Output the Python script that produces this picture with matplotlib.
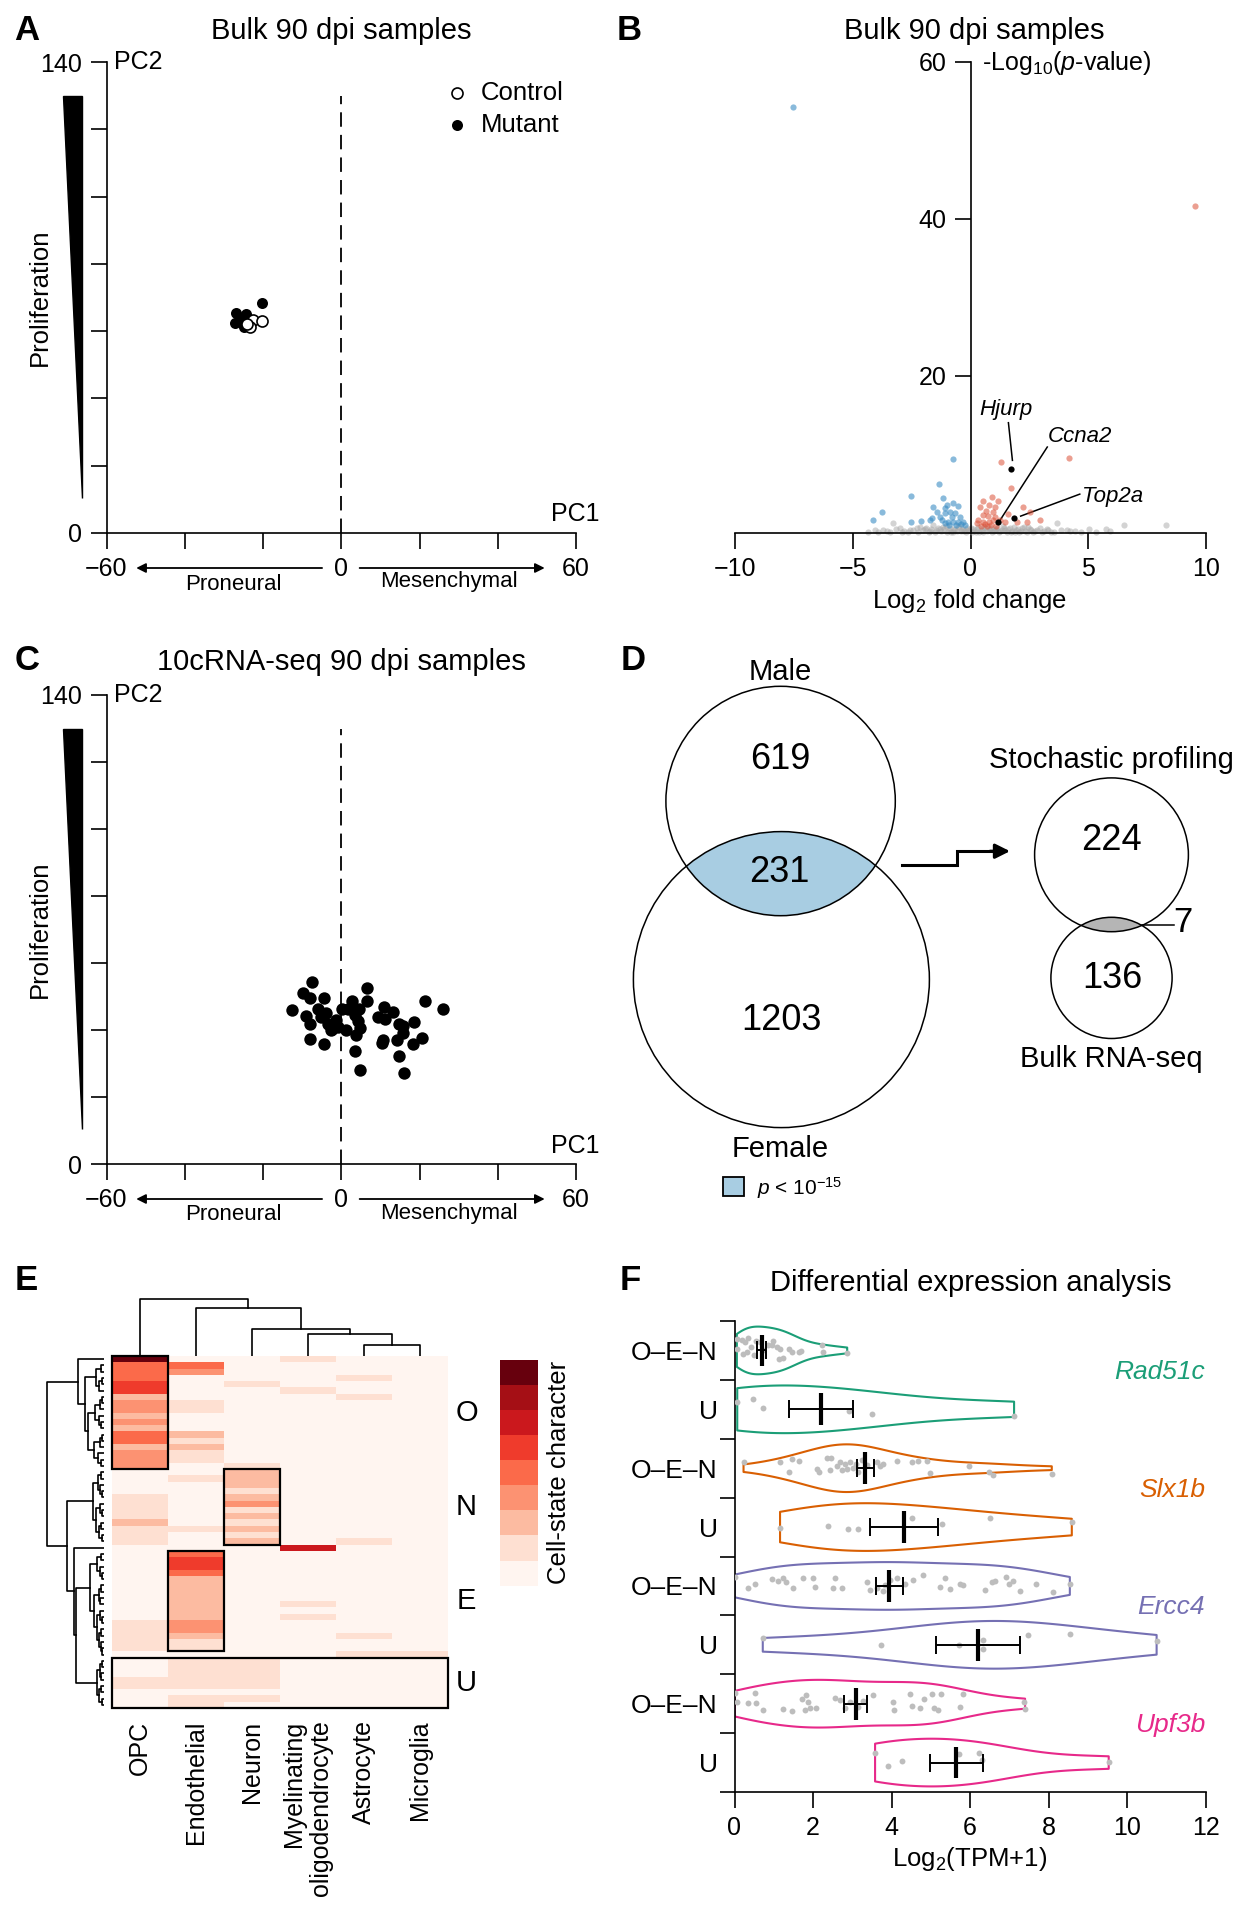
import matplotlib.pyplot as plt
import numpy as np
from matplotlib.patches import Circle, Polygon, Rectangle
from matplotlib.colors import ListedColormap, BoundaryNorm

plt.rcParams['font.family'] = ['Liberation Sans', 'DejaVu Sans']
plt.rcParams['mathtext.fontset'] = 'custom'
plt.rcParams['mathtext.rm'] = 'Liberation Sans'
plt.rcParams['mathtext.it'] = 'Liberation Sans:italic'
plt.rcParams['mathtext.bf'] = 'Liberation Sans:bold'
plt.rcParams['axes.linewidth'] = 1.2

# ---------------- data ----------------
# A: bulk PCA (PC1, PC2)
a_mut_x = [-27.2, -26.8, -24.3, -25.5, -24.8, -20.3]
a_mut_y = [62.3, 65.3, 65.0, 63.4, 61.3, 68.5]
a_ctl_x = [-22.5, -20.3, -23.2, -24.0]
a_ctl_y = [63.4, 63.0, 61.3, 62.0]

# B: volcano
gray_x = [-4.35, -4.05, -3.73, -3.55, -3.30, -3.15, -2.99, -2.82, -2.65, -2.43,
          -2.28, -2.14, -2.02, -1.88, -1.76, -1.66, -1.58, -1.47, -1.36, -1.24,
          -1.12, -1.03, -0.92, -0.81, -0.70, -0.58, -0.49, -0.37, -0.26, -0.15,
          -0.06, 0.07, 0.16, 0.28, 0.37, 0.49, 0.58, 0.71, 0.83, 0.92,
          1.04, 1.13, 1.27, 1.36, 1.48, 1.59, 1.71, 1.83, 1.94, 2.06,
          2.18, 2.31, 2.45, 2.58, 2.74, 2.95, 3.12, 3.23, 3.41, 3.66,
          3.83, 4.08, 4.45, 5.05, 5.75, 5.92, 6.52, 8.30,
          -3.92, -3.41, -2.91, -2.56, -2.21, -1.95, -1.71, -1.52, -1.31, -1.17,
          -0.98, -0.86, -0.75, -0.64, -0.53, -0.42, -0.31, -0.21, -0.10, 0.03,
          0.12, 0.22, 0.33, 0.44, 0.54, 0.66, 0.77, 0.88, 0.98, 1.09,
          1.21, 1.32, 1.44, 1.55, 1.66, 1.78, 1.89, 2.01, 2.13, 2.26,
          2.39, 2.52, 2.66, 2.84, 3.02, 3.31, 3.55, 4.22, 4.71, 5.34]
gray_y = [0.12, 0.28, 0.32, 0.18, 1.17, 0.41, 0.53, 0.22, 0.09, 0.32,
          0.55, 0.74, 0.27, 0.61, 0.14, 0.44, 0.95, 0.31, 0.63, 0.18,
          0.49, 0.83, 0.29, 0.11, 0.52, 0.24, 0.71, 0.38, 0.15, 0.58,
          0.27, 0.09, 0.22, 0.48, 0.12, 0.36, 0.69, 0.19, 0.51, 0.08,
          0.33, 0.62, 0.21, 0.79, 0.28, 0.47, 0.14, 0.71, 0.36, 0.11,
          0.55, 0.24, 0.74, 0.38, 0.18, 0.62, 0.21, 0.40, 0.13, 1.17,
          0.30, 0.32, 0.15, 0.40, 0.40, 0.22, 0.91, 1.00,
          0.05, 0.14, 0.07, 0.36, 0.12, 0.45, 0.26, 0.06, 0.41, 0.72,
          0.13, 0.58, 0.04, 0.33, 0.86, 0.19, 0.44, 0.06, 0.35, 0.62,
          0.41, 0.05, 0.77, 0.26, 0.09, 0.55, 0.31, 0.64, 0.18, 0.47,
          0.06, 0.39, 0.57, 0.10, 0.62, 0.25, 0.08, 0.49, 0.20, 0.66,
          0.07, 0.42, 0.12, 0.31, 0.05, 0.27, 0.08, 0.21, 0.10, 0.06]
blue_x = [-7.53, -0.73, -1.32, -2.54, -3.77, -4.15, -2.53, -2.10, -1.65, -1.58,
          -1.15, -1.01, -0.73, -0.52, -1.44, -1.08, -0.87, -0.66, -0.45, -1.22,
          -0.94, -0.73, -0.52, -0.30, -1.08, -0.80, -1.29, -1.72,
          -0.60, -0.40, -0.90, -1.10, -0.25]
blue_y = [54.2, 9.43, 6.18, 4.65, 2.61, 1.55, 1.30, 1.46, 1.80, 3.29,
          4.35, 3.50, 3.72, 3.38, 2.65, 2.44, 2.65, 2.44, 2.02, 1.59,
          1.38, 1.38, 1.38, 1.38, 3.08, 2.02, 2.02, 1.59,
          1.00, 1.10, 1.00, 1.20, 1.00]
red_x = [9.54, 4.20, 1.31, 1.72, 0.52, 0.90, 1.18, 0.80, 1.04, 0.40,
         0.66, 0.94, 0.52, 0.76, 1.04, 0.33, 0.54, 0.80, 0.97, 1.25,
         1.46, 0.26, 2.21, 2.53, 1.61, 2.41, 2.95, 1.96, 0.45, 0.62,
         0.70, 0.88, 1.10]
red_y = [41.55, 9.45, 8.94, 5.63, 4.06, 4.48, 4.06, 3.50, 3.29, 3.29,
         2.78, 2.65, 2.23, 2.10, 2.02, 1.59, 1.38, 1.38, 1.59, 1.59,
         1.38, 1.25, 3.29, 2.65, 2.36, 1.38, 1.59, 1.38, 0.90, 1.10,
         0.80, 1.00, 0.90]
genes_b = ['Hjurp', 'Ccna2', 'Top2a']
genes_b_x = [1.72, 1.15, 1.85]
genes_b_y = [8.09, 1.38, 1.80]

# C: 10cRNA-seq PCA
c_x = [-7.4, -9.9, -7.9, -4.3, -12.6, -8.9, -5.9, -3.8, -8.1, -5.3,
       -3.3, -1.3, -2.5, -0.8, 0.2, 2.7, 4.5, 3.4, 6.6, 6.6,
       1.2, 3.7, 4.7, 3.4, 4.9, 9.3, 11.0, 11.3, 13.3, 14.8,
       15.8, 18.7, 15.8, 14.3, 10.6, 10.3, 18.4, 20.7, 14.8, 16.0,
       21.4, 25.9, -8.1, -4.3, -2.3, 1.7, 4.2]
c_y = [54.3, 51.1, 49.5, 49.7, 45.9, 44.2, 46.3, 45.1, 41.9, 44.0,
       41.7, 42.9, 40.0, 40.8, 46.3, 48.8, 46.3, 44.6, 52.6, 48.8,
       40.0, 38.6, 40.6, 33.7, 28.2, 43.8, 46.9, 43.4, 45.4, 41.7,
       41.1, 42.3, 39.2, 37.1, 36.9, 36.0, 35.7, 37.7, 32.3, 27.1,
       48.6, 46.3, 37.4, 35.8, 40.3, 46.3, 42.6]

# D: Venn counts
male_only, shared, female_only = 619, 231, 1203
stoch_only, overlap_sb, bulk_only = 224, 7, 136

# E: heatmap (levels 0-8), rows top to bottom
cell_types = ['OPC', 'Endothelial', 'Neuron', 'Myelinating\noligodendrocyte',
              'Astrocyte', 'Microglia']
opc = [8, 4, 4, 4, 5, 5, 2, 3, 3, 2, 3, 2, 4, 4, 2, 3, 3, 3, 0, 0,
       0, 0, 1, 1, 1, 1, 2, 1, 1, 1, 0, 0, 0, 0, 0, 0, 0, 0, 0, 0,
       0, 0, 1, 1, 1, 1, 1, 0, 0, 0, 0, 1, 1, 0, 0, 0]
endo = [0, 4, 3, 0, 0, 0, 0, 1, 1, 0, 0, 0, 2, 1, 2, 1, 1, 0, 0, 1,
        0, 0, 0, 0, 0, 0, 0, 1, 0, 0, 0, 4, 5, 5, 4, 2, 2, 2, 2, 2,
        2, 2, 3, 3, 2, 1, 1, 0, 1, 1, 1, 1, 1, 0, 1, 1]
neuron = [0, 0, 0, 0, 1, 0, 0, 0, 0, 0, 0, 0, 0, 0, 0, 0, 0, 1, 2, 2,
          2, 1, 2, 3, 1, 2, 1, 2, 1, 2, 0, 0, 0, 0, 0, 0, 0, 0, 0, 0,
          0, 0, 0, 0, 0, 0, 0, 0, 1, 1, 1, 1, 1, 0, 1, 0]
myelin = [1, 0, 0, 0, 0, 1, 0, 0, 0, 0, 0, 0, 0, 0, 0, 0, 0, 0, 0, 0,
          0, 0, 0, 0, 0, 0, 0, 0, 0, 0, 6, 0, 0, 0, 0, 0, 0, 0, 0, 1,
          0, 1, 0, 0, 0, 0, 0, 0, 0, 0, 0, 0, 0, 0, 0, 0]
astro = [0, 0, 0, 1, 0, 0, 1, 0, 0, 0, 0, 0, 0, 0, 0, 0, 0, 0, 0, 0,
         0, 0, 0, 0, 0, 0, 0, 0, 0, 1, 0, 0, 0, 0, 0, 0, 0, 0, 0, 0,
         0, 0, 0, 0, 1, 0, 0, 1, 0, 0, 0, 0, 0, 0, 0, 0]
micro = [0, 0, 0, 0, 0, 0, 0, 0, 0, 0, 0, 0, 0, 0, 0, 0, 0, 0, 0, 0,
         0, 0, 0, 0, 0, 0, 0, 0, 0, 0, 0, 0, 0, 0, 0, 0, 0, 0, 0, 0,
         0, 0, 0, 0, 0, 0, 0, 1, 0, 0, 0, 0, 0, 0, 0, 0]
reds9 = ['#fff5f0', '#fee0d2', '#fcbba1', '#fc9272', '#fb6a4a',
         '#ef3b2c', '#cb181d', '#a50f15', '#67000d']
# clusters: name, column of box (None = all), first row, last row + 1
clusters = [('O', 0, 0, 18), ('N', 2, 18, 30), ('E', 1, 31, 47), ('U', None, 48, 56)]
# dendrograms: (height_px, left, right), leaves = index
col_tree = (57.2, 0, (48.0, 1, (26.8, 2, (21.6, 3, (11.0, 4, 5)))))
o_tree = (26.7, 0, (19.3, (8.0, (3.5, 1, 2), (5.5, (2.5, 3, 4), 5)),
                    (16.7, (9.0, (4.0, (2.5, 6, 7), 8), (5.0, 9, (3.0, 10, 11))),
                     (10.0, (4.5, (2.5, 12, 13), 14), (6.0, 15, (3.0, 16, 17))))))
n_tree = (11.0, (6.0, (3.0, 18, 19), (4.0, 20, (2.5, 21, 22))),
          (8.0, (4.0, 23, (2.5, 24, 25)), (5.0, (3.0, 26, 27), (2.5, 28, 29))))
e_tree = (14.3, (7.0, (3.0, 31, 32), (4.5, 33, (2.5, 34, 35))),
          (10.0, (5.0, (3.0, 36, 37), (4.0, 38, 39)),
           (7.0, (4.0, 40, (2.5, 41, 42)), (5.0, (3.0, 43, 44), (3.5, 45, (2.0, 46, 47))))))
u_tree = (7.0, (4.0, (2.5, 48, 49), (3.0, 50, 51)), (5.0, (3.0, 52, 53), (2.5, 54, 55)))
row_tree = (57.6, o_tree, (37.0, n_tree, (30.0, 30, (28.7, e_tree, u_tree))))

# F: violins, rows top to bottom
f_genes = ['Rad51c', 'Slx1b', 'Ercc4', 'Upf3b']
f_colors = ['#1b9e77', '#d95f02', '#7570b3', '#e7298a']
f_groups = ['O\u2013E\u2013N', 'U']
f_vals = [
    [0.06, 0.07, 0.18, 0.27, 0.31, 0.41, 0.50, 0.56, 0.65, 0.73, 0.86, 0.95, 1.07,
     1.14, 1.24, 1.40, 1.46, 1.63, 1.69, 2.22, 2.26, 2.87, 0.22, 0.35, 0.99, 1.16],
    [0.07, 0.46, 0.72, 2.92, 3.49, 7.12],
    [0.23, 1.16, 1.46, 1.63, 1.40, 2.11, 2.35, 2.47, 2.43, 2.62, 2.69, 2.81, 2.86,
     2.94, 3.03, 3.09, 3.15, 3.24, 3.37, 3.62, 3.71, 3.79, 4.13, 4.51, 4.68, 4.89,
     4.98, 5.98, 6.49, 6.59, 8.08, 2.16, 2.73],
    [1.16, 2.37, 2.90, 3.15, 4.51, 5.28, 6.51, 8.59],
    [0.01, 0.35, 0.52, 0.95, 1.12, 1.24, 1.31, 1.48, 1.74, 2.01, 2.05, 2.52, 2.56,
     2.73, 3.37, 3.45, 3.62, 3.79, 3.83, 3.96, 4.13, 4.34, 4.55, 4.79, 5.23, 5.36,
     5.49, 5.74, 5.83, 6.38, 6.55, 6.63, 6.91, 7.00, 7.10, 7.27, 7.68, 8.10, 8.54],
    [0.72, 3.73, 5.73, 6.34, 6.32, 7.48, 8.54, 10.75],
    [0.01, 0.06, 0.35, 0.52, 0.55, 0.73, 1.23, 1.46, 1.71, 1.82, 1.88, 1.92, 2.08,
     1.80, 2.56, 2.69, 2.81, 2.94, 3.15, 3.28, 3.52, 4.03, 4.05, 4.47, 4.51, 4.72,
     4.83, 5.02, 5.08, 5.17, 5.25, 5.74, 5.81, 7.36, 7.40],
    [3.58, 3.90, 4.26, 5.71, 6.23, 6.31, 9.53],
]
f_jitter = [
    [-0.20, -0.03, -0.18, -0.14, 0.02, -0.06, 0.08, -0.16, -0.14, 0.00, -0.09, -0.10,
     -0.06, 0.14, 0.12, -0.03, 0.02, 0.03, 0.01, -0.10, 0.02, 0.04, 0.06, -0.21,
     -0.16, -0.03],
    [-0.12, -0.17, -0.03, 0.03, 0.08, 0.12],
    [-0.11, -0.11, -0.16, -0.12, 0.07, 0.01, -0.18, -0.17, 0.03, -0.03, -0.11, -0.07,
     0.01, -0.11, -0.01, -0.07, 0.06, -0.14, -0.06, -0.11, -0.03, -0.07, -0.12,
     -0.11, -0.12, -0.12, 0.08, -0.03, 0.06, 0.11, 0.10, 0.06, 0.03],
    [0.01, -0.02, 0.03, 0.03, -0.16, -0.05, -0.15, -0.08],
    [-0.16, 0.04, -0.03, -0.11, -0.08, -0.13, -0.06, 0.03, -0.13, -0.14, 0.01, 0.03,
     -0.13, 0.03, -0.07, 0.07, 0.04, 0.08, -0.01, -0.10, -0.14, -0.03, -0.10, -0.18,
     0.01, -0.14, 0.05, -0.03, -0.02, 0.07, -0.07, -0.08, -0.15, -0.03, -0.08, 0.08,
     -0.03, 0.11, -0.03],
    [-0.12, 0.01, 0.01, -0.08, 0.07, -0.17, -0.18, -0.07],
    [-0.18, -0.03, -0.02, -0.18, -0.02, 0.11, 0.09, 0.12, -0.08, -0.15, -0.03, 0.07,
     0.07, 0.10, -0.09, -0.06, 0.07, -0.03, 0.05, -0.05, -0.14, -0.03, 0.11, -0.16,
     0.04, 0.07, -0.08, -0.16, 0.08, 0.10, -0.16, 0.05, -0.16, -0.03, 0.09],
    [-0.17, 0.06, -0.02, -0.15, -0.16, -0.04, -0.01],
]
f_mean = [0.70, 2.20, 3.32, 4.32, 3.93, 6.21, 3.09, 5.65]
f_lo = [0.58, 1.39, 3.11, 3.45, 3.60, 5.13, 2.79, 4.97]
f_hi = [0.81, 3.03, 3.54, 5.17, 4.28, 7.27, 3.38, 6.34]

# ---------------- figure ----------------
W, H = 1250, 1920
fig = plt.figure(figsize=(W / 100, H / 100), dpi=100)
LETTER = dict(fontsize=25, fontweight='bold')


def px_axes(x0, y0, x1, y1):
    return fig.add_axes([x0 / W, 1 - y1 / H, (x1 - x0) / W, (y1 - y0) / H])


def ftext(x, y, s, **kw):
    kw.setdefault('ha', 'center')
    kw.setdefault('va', 'center')
    return fig.text(x / W, 1 - y / H, s, **kw)


def pca_panel(y0, y1, xs, ys, size, open_x=None, open_y=None):
    ax = px_axes(106.5, y0, 576, y1)
    ax.set_xlim(-60, 60)
    ax.set_ylim(0, 140)
    for s in ['top', 'right']:
        ax.spines[s].set_visible(False)
    ax.set_xticks(range(-60, 61, 20))
    ax.set_xticklabels(['\u221260', '', '', '0', '', '', '60'], fontsize=18)
    ax.set_yticks(range(0, 141, 20))
    ax.set_yticklabels(['0', '', '', '', '', '', '', '140'], fontsize=18)
    ax.tick_params(length=11.5, width=1.2, pad=6)
    ax.plot([0, 0], [0, 130], color='k', lw=1.3, ls=(0, (8, 4.5)))
    ax.scatter(xs, ys, s=size, color='k', zorder=3, linewidths=0)
    if open_x is not None:
        ax.scatter(open_x, open_y, s=size, facecolor='white', edgecolor='k',
                   linewidths=1.2, zorder=4)
    # proliferation wedge
    ax.add_patch(Polygon([(-71.2, 130), (-66.2, 130), (-66.2, 10.5)], closed=True,
                         color='k', clip_on=False))
    ax.text(-77, 70, 'Proliferation', rotation=90, ha='center', va='center',
            fontsize=18.5)
    ax.text(-58, 140, 'PC2', ha='left', va='center', fontsize=18)
    ax.text(66, 5.5, 'PC1', ha='right', va='center', fontsize=18)
    tr = ax.get_xaxis_transform()
    ya = -35 / (y1 - y0)
    arrow = dict(arrowstyle='-|>', color='k', lw=1.3, mutation_scale=14,
                 shrinkA=0, shrinkB=0)
    ax.annotate('', xy=(-52.4, ya), xytext=(-4.9, ya), xycoords=tr, textcoords=tr,
                arrowprops=arrow)
    ax.annotate('', xy=(52.0, ya), xytext=(4.7, ya), xycoords=tr, textcoords=tr,
                arrowprops=arrow)
    ax.text(-27.6, -51 / (y1 - y0), 'Proneural', transform=tr, ha='center',
            va='center', fontsize=16)
    ax.text(27.5, -49 / (y1 - y0), 'Mesenchymal', transform=tr, ha='center',
            va='center', fontsize=16)
    return ax


# ---------- A ----------
ftext(27, 30, 'A', **LETTER)
ftext(341, 31, 'Bulk 90 dpi samples', fontsize=21)
ax_a = pca_panel(62, 533, a_mut_x, a_mut_y, 63, a_ctl_x, a_ctl_y)
ax_a.scatter([29.5], [130.7], s=63, facecolor='white', edgecolor='k', linewidths=1.2)
ax_a.scatter([29.5], [121.4], s=63, color='k', linewidths=0)
ax_a.text(35.6, 130.7, 'Control', ha='left', va='center', fontsize=18.5)
ax_a.text(35.6, 121.4, 'Mutant', ha='left', va='center', fontsize=18.5)

# ---------- B ----------
ftext(629, 30, 'B', **LETTER)
ftext(974, 31, 'Bulk 90 dpi samples', fontsize=21)
ax_b = px_axes(735, 61.6, 1206, 532.6)
ax_b.set_xlim(-10, 10)
ax_b.set_ylim(0, 60)
for s in ['top', 'right']:
    ax_b.spines[s].set_visible(False)
ax_b.spines['left'].set_position(('data', 0))
ax_b.set_xticks([-10, -5, 0, 5, 10])
ax_b.set_xticklabels(['\u221210', '\u22125', '0', '5', '10'], fontsize=18)
ax_b.set_yticks([20, 40, 60])
ax_b.set_yticklabels(['20', '40', '60'], fontsize=18)
ax_b.tick_params(length=11.5, width=1.2, pad=6)
ax_b.scatter(gray_x, gray_y, s=20, color='#a8a8a8', alpha=0.5, linewidths=0,
             clip_on=False, zorder=2)
ax_b.scatter(blue_x, blue_y, s=20, color='#3a8cc3', alpha=0.6, linewidths=0,
             clip_on=False, zorder=3)
ax_b.scatter(red_x, red_y, s=20, color='#dc5037', alpha=0.55, linewidths=0,
             clip_on=False, zorder=3)
ax_b.scatter(genes_b_x, genes_b_y, s=20, color='k', linewidths=0, zorder=4)
lab_pos = [(1.52, 15.7), (4.64, 12.2), (6.03, 4.64)]
line_pts = [((1.61, 14.0), (1.78, 9.2)), ((3.26, 10.9), (1.26, 1.6)),
            ((4.64, 4.9), (2.13, 2.1))]
for g, (lx, ly), (p0, p1) in zip(genes_b, lab_pos, line_pts):
    ax_b.text(lx, ly, g, style='italic', fontsize=16, ha='center', va='center')
    ax_b.plot([p0[0], p1[0]], [p0[1], p1[1]], color='k', lw=1.1)
ftext(982, 63, r'-Log$_{10}$($p$-value)', ha='left', fontsize=18)
ftext(970, 601, r'Log$_2$ fold change', fontsize=18.5)

# ---------- C ----------
ftext(27, 661, 'C', **LETTER)
ftext(341, 662, '10cRNA-seq 90 dpi samples', fontsize=21)
pca_panel(695, 1164, c_x, c_y, 80)

# ---------- D ----------
ftext(633, 660, 'D', **LETTER)
ax_d = px_axes(615, 640, 1250, 1250)
ax_d.set_xlim(615, 1250)
ax_d.set_ylim(1250, 640)
ax_d.axis('off')
male = Circle((780.6, 801), 114.7, fc='none', ec='k', lw=1.1, zorder=3)
female = Circle((781.4, 979.6), 148.0, fc='none', ec='k', lw=1.1, zorder=3)
ax_d.add_patch(male)
ax_d.add_patch(female)
lens = Circle((781.4, 979.6), 148.0, fc='#a8cde2', ec='none', zorder=1)
ax_d.add_patch(lens)
lens.set_clip_path(male)
stoch = Circle((1111.5, 854.8), 76.9, fc='none', ec='k', lw=1.1, zorder=3)
bulk = Circle((1111.5, 977.9), 60.6, fc='none', ec='k', lw=1.1, zorder=3)
ax_d.add_patch(stoch)
ax_d.add_patch(bulk)
lens2 = Circle((1111.5, 977.9), 60.6, fc='#b5b5b5', ec='none', zorder=1)
ax_d.add_patch(lens2)
lens2.set_clip_path(stoch)
ax_d.text(780.6, 672, 'Male', ha='center', va='center', fontsize=21)
ax_d.text(780.6, 1148.6, 'Female', ha='center', va='center', fontsize=21)
ax_d.text(780.6, 760, str(male_only), ha='center', va='center', fontsize=26)
ax_d.text(779.3, 873, str(shared), ha='center', va='center', fontsize=26)
ax_d.text(781.4, 1021, str(female_only), ha='center', va='center', fontsize=26)
ax_d.text(1111, 760, 'Stochastic profiling', ha='center', va='center', fontsize=21)
ax_d.text(1111, 841, str(stoch_only), ha='center', va='center', fontsize=26)
ax_d.text(1112, 979, str(bulk_only), ha='center', va='center', fontsize=26)
ax_d.text(1111, 1059, 'Bulk RNA-seq', ha='center', va='center', fontsize=21)
ax_d.text(1183, 923, str(overlap_sb), ha='center', va='center', fontsize=25)
ax_d.plot([1142, 1174], [924.7, 924.7], color='k', lw=1.1)
ax_d.plot([901.8, 956.8, 956.8, 995], [865.4, 865.4, 851.2, 851.2], color='k',
          lw=2.2, solid_joinstyle='miter')
ax_d.annotate('', xy=(1010, 851.2), xytext=(990, 851.2),
              arrowprops=dict(arrowstyle='-|>', color='k', lw=2.2,
                              mutation_scale=22, shrinkA=0, shrinkB=0))
ax_d.add_patch(Rectangle((723.4, 1177), 20.5, 19.4, fc='#a8cde2', ec='k', lw=1.3))
ax_d.text(757, 1188, r'$p$ < 10$^{-15}$', ha='left', va='center', fontsize=15)

# ---------- E ----------
ftext(26, 1281, 'E', **LETTER)
mat = np.array([opc, endo, neuron, myelin, astro, micro]).T
cmap = ListedColormap(reds9)
norm = BoundaryNorm(np.arange(-0.5, 9.5, 1), cmap.N)
ax_e = px_axes(111.7, 1356, 447.5, 1708)
ax_e.pcolormesh(np.arange(7), np.arange(57), mat, cmap=cmap, norm=norm)
ax_e.set_xlim(0, 6)
ax_e.set_ylim(56, 0)
for s in ax_e.spines.values():
    s.set_visible(False)
ax_e.set_yticks([])
ax_e.set_xticks(np.arange(6) + 0.5)
ax_e.set_xticklabels(cell_types, rotation=90, fontsize=18)
for t in ax_e.get_xticklabels():
    t.set_multialignment('right')
ax_e.tick_params(axis='x', length=0, pad=9)
for name, col, r0, r1 in clusters:
    if col is None:
        x0, w = 0, 6
    else:
        x0, w = col, 1
    ax_e.add_patch(Rectangle((x0, r0), w, r1 - r0, fc='none', ec='k', lw=1.6,
                             clip_on=False, zorder=5))
    ax_e.text(6.34, (r0 + r1) / 2, name, ha='center', va='center', fontsize=21)


def draw_tree(ax, node, rows):
    if isinstance(node, int):
        return node + 0.5, 0.0
    h, left, right = node
    p1, h1 = draw_tree(ax, left, rows)
    p2, h2 = draw_tree(ax, right, rows)
    if rows:
        ax.plot([h1, h, h, h2], [p1, p1, p2, p2], color='k', lw=1.2)
    else:
        ax.plot([p1, p1, p2, p2], [h1, h, h, h2], color='k', lw=1.2)
    return (p1 + p2) / 2, h


ax_rd = px_axes(40, 1356, 104.3, 1708)
ax_rd.set_xlim(64.3, 0)
ax_rd.set_ylim(56, 0)
ax_rd.axis('off')
draw_tree(ax_rd, row_tree, True)

ax_cd = px_axes(111.7, 1290, 447.5, 1356)
ax_cd.set_xlim(0, 6)
ax_cd.set_ylim(0, 66)
ax_cd.axis('off')
draw_tree(ax_cd, col_tree, False)

ax_cb = px_axes(500.2, 1359.8, 537.8, 1585.6)
ax_cb.pcolormesh(np.arange(2), np.arange(10), np.arange(9).reshape(9, 1),
                 cmap=cmap, norm=norm)
ax_cb.axis('off')
ftext(559.5, 1472.5, 'Cell-state character', rotation=90, fontsize=18.5)

# ---------- F ----------
ftext(630, 1281, 'F', **LETTER)
ftext(970.5, 1283, 'Differential expression analysis', fontsize=21)
ax_f = px_axes(734.5, 1321, 1205.7, 1792)
ax_f.set_xlim(0, 12)
ax_f.set_ylim(7.5, -0.5)
for s in ['top', 'right']:
    ax_f.spines[s].set_visible(False)
rows = np.arange(8)
row_colors = [c for c in f_colors for _ in range(2)]
try:
    parts = ax_f.violinplot(f_vals, positions=rows, orientation='horizontal',
                            widths=0.81, showextrema=False)
except TypeError:
    parts = ax_f.violinplot(f_vals, positions=rows, vert=False, widths=0.81,
                            showextrema=False)
for body, col in zip(parts['bodies'], row_colors):
    body.set_facecolor('none')
    body.set_edgecolor(col)
    body.set_linewidth(1.5)
    body.set_alpha(1)
for r in rows:
    ax_f.scatter(f_vals[r], np.array(f_jitter[r]) + r, s=18, color='#bdbdbd',
                 linewidths=0, zorder=3)
ax_f.errorbar(f_mean, rows, xerr=[np.array(f_mean) - np.array(f_lo),
                                  np.array(f_hi) - np.array(f_mean)],
              fmt='none', ecolor='k', elinewidth=1.4, capsize=6.6, capthick=1.4,
              zorder=4)
ax_f.vlines(f_mean, rows - 0.27, rows + 0.27, color='k', lw=3, zorder=5)
ax_f.set_xticks(range(0, 13, 2))
ax_f.set_xticklabels([str(v) for v in range(0, 13, 2)], fontsize=18)
ax_f.set_yticks(rows)
ax_f.set_yticklabels(f_groups * 4, fontsize=19)
ax_f.set_yticks(np.arange(-0.5, 8, 1), minor=True)
ax_f.tick_params(axis='x', length=11.5, width=1.2, pad=6)
ax_f.tick_params(axis='y', which='major', length=0, pad=12)
ax_f.tick_params(axis='y', which='minor', length=11, width=1.2)
for g, col, yy in zip(f_genes, f_colors, [1371.7, 1489.7, 1607, 1725]):
    ftext(1205, yy, g, ha='right', style='italic', color=col, fontsize=19)
ftext(970, 1859, r'Log$_2$(TPM+1)', fontsize=18.5)

fig.savefig('out.png', dpi=100)
